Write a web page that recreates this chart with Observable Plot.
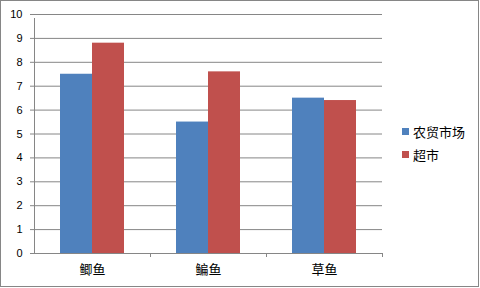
<!DOCTYPE html>
<html><head><meta charset="utf-8">
<script src="https://cdn.jsdelivr.net/npm/d3@7"></script>
<script src="https://cdn.jsdelivr.net/npm/@observablehq/plot@0.6"></script>
<style>
html,body{margin:0;padding:0;background:#fff;}
#wrap{position:relative;width:480px;height:288px;overflow:hidden;background:#fff;}
#border{position:absolute;left:0;top:0;width:479px;height:287px;box-sizing:border-box;border:1px solid #868686;pointer-events:none;}
#legend{position:absolute;left:402px;top:120px;font-family:"Noto Sans CJK SC",sans-serif;font-size:13px;color:#000;}
.item{display:flex;align-items:center;height:23px;line-height:23px;white-space:nowrap;}
.sw{width:7px;height:7px;margin-right:4px;flex:none;}
</style>
</head><body>
<div id="wrap"><div id="border"></div><div id="legend"></div></div>
<script>
const fishes = ["鲫鱼", "鳊鱼", "草鱼"];
const seriesNames = ["农贸市场", "超市"];
const marketValues = [7.5, 5.5, 6.5];
const supermarketValues = [8.8, 7.6, 6.4];
const seriesColors = ["#4F81BD", "#C0504D"];
const yTicks = [0, 1, 2, 3, 4, 5, 6, 7, 8, 9, 10];

const data = fishes.flatMap((f, i) => [
  {fish: f, series: seriesNames[0], value: marketValues[i]},
  {fish: f, series: seriesNames[1], value: supermarketValues[i]}
]);
const gray = "#868686";

const chart = Plot.plot({
  width: 480, height: 288,
  marginLeft: 34, marginRight: 98, marginTop: 14, marginBottom: 35,
  style: {fontFamily: "'Liberation Sans', 'Noto Sans CJK SC', sans-serif", fontSize: "11px", color: "#000", background: "transparent"},
  fx: {domain: fishes, padding: 0, label: null},
  x: {domain: seriesNames, paddingInner: 0, paddingOuter: 0.7576, axis: null},
  y: {domain: [0, 10], label: null},
  color: {domain: seriesNames, range: seriesColors},
  marks: [
    Plot.ruleY(yTicks, {stroke: gray, strokeOpacity: 1}),
    Plot.barY(data, {fx: "fish", x: "series", y: "value", fill: "series"}),
    Plot.ruleY([0], {stroke: gray, strokeOpacity: 1}),
    Plot.ruleX([fishes[0]], {fx: d => d, x: null, y1: 0, y2: 10, dx: -58, insetBottom: -4, stroke: gray}),
    Plot.ruleX(fishes.slice(1), {fx: d => d, x: null, y1: 0, y2: 0, dx: -58, insetBottom: -4, stroke: gray}),
    Plot.ruleX([fishes[2]], {fx: d => d, x: null, y1: 0, y2: 0, dx: 58, insetBottom: -4, stroke: gray}),
    Plot.axisY({ticks: yTicks, tickSize: 4, tickPadding: 8, stroke: gray, strokeOpacity: 1, fill: "#000", fontSize: 11, label: null, tickFormat: d => String(d)}),
    Plot.axisFx({anchor: "bottom", tickSize: 0, tickPadding: 11, fontSize: 13, fill: "#000", label: null, fontFamily: "'Noto Sans CJK SC', sans-serif"})
  ]
});
document.getElementById("wrap").prepend(chart);

const legend = document.getElementById("legend");
seriesNames.forEach((name, i) => {
  const item = document.createElement("div");
  item.className = "item";
  const sw = document.createElement("span");
  sw.className = "sw";
  sw.style.background = seriesColors[i];
  const t = document.createElement("span");
  t.textContent = name;
  item.append(sw, t);
  legend.append(item);
});
</script>
</body></html>
